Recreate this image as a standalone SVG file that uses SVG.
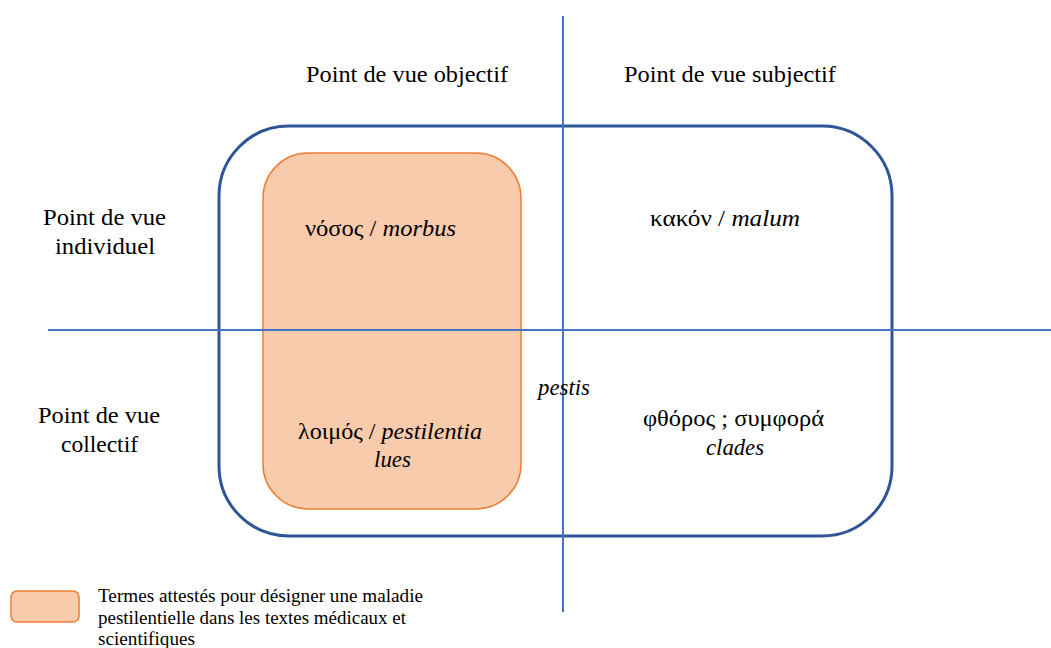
<svg xmlns="http://www.w3.org/2000/svg" width="1051" height="648" viewBox="0 0 1051 648">
<style>
text{font-family:"Liberation Serif","DejaVu Serif",serif;fill:#000;}
.h{font-size:24px;}
.l{font-size:18px;}
.i{font-style:italic;}
.axis{stroke:#4472C4;stroke-width:2;fill:none;}
.orange{fill:#F8CBAD;stroke:#ED7D31;stroke-width:1.5;}
</style>
<rect width="1051" height="648" fill="#fff"/>
<g id="outer-frame">
<rect x="219" y="126" width="673" height="410" rx="70" ry="70" fill="none" stroke="#2F5597" stroke-width="3"/>
</g>
<g id="medical-terms-box">
<rect class="orange" x="263" y="153" width="258" height="356" rx="45" ry="45"/>
</g>
<g id="connectors">
<line class="axis" x1="563" y1="16" x2="563" y2="612"/>
<line class="axis" x1="48" y1="330" x2="1051" y2="330"/>
</g>
<g id="header-objectif"><text class="h" x="306" y="82" textLength="202" lengthAdjust="spacingAndGlyphs">Point de vue objectif</text></g>
<g id="header-subjectif"><text class="h" x="624" y="82" textLength="212" lengthAdjust="spacingAndGlyphs">Point de vue subjectif</text></g>
<g id="header-individuel"><text class="h" x="43" y="225" textLength="123" lengthAdjust="spacingAndGlyphs">Point de vue</text><text class="h" x="55" y="254" textLength="100" lengthAdjust="spacingAndGlyphs">individuel</text></g>
<g id="header-collectif"><text class="h" x="38" y="423" textLength="122" lengthAdjust="spacingAndGlyphs">Point de vue</text><text class="h" x="61" y="452" textLength="77" lengthAdjust="spacingAndGlyphs">collectif</text></g>
<g id="nosos"><text class="h" x="305" y="236" textLength="151" lengthAdjust="spacingAndGlyphs">νόσος / <tspan class="i">morbus</tspan></text></g>
<g id="kakon"><text class="h" x="650" y="226" textLength="150" lengthAdjust="spacingAndGlyphs">κακόν / <tspan class="i">malum</tspan></text></g>
<g id="pestis"><text class="h i" x="538" y="395" textLength="52" lengthAdjust="spacingAndGlyphs">pestis</text></g>
<g id="loimos"><text class="h" x="298" y="439" textLength="184" lengthAdjust="spacingAndGlyphs">λοιμός / <tspan class="i">pestilentia</tspan></text><text class="h i" x="374" y="467" textLength="37" lengthAdjust="spacingAndGlyphs">lues</text></g>
<g id="phthoros"><text class="h" x="643" y="426" textLength="181" lengthAdjust="spacingAndGlyphs">φθόρος ; συμφορά</text><text class="h i" x="706" y="455" textLength="58" lengthAdjust="spacingAndGlyphs">clades</text></g>
<g id="legend">
<rect class="orange" x="11" y="591" width="68" height="31" rx="6" ry="6"/>
<text class="l" x="98" y="602" textLength="325" lengthAdjust="spacingAndGlyphs">Termes attestés pour désigner une maladie</text>
<text class="l" x="98" y="624" textLength="308" lengthAdjust="spacingAndGlyphs">pestilentielle dans les textes médicaux et</text>
<text class="l" x="98" y="645" textLength="97" lengthAdjust="spacingAndGlyphs">scientifiques</text>
</g>
</svg>
